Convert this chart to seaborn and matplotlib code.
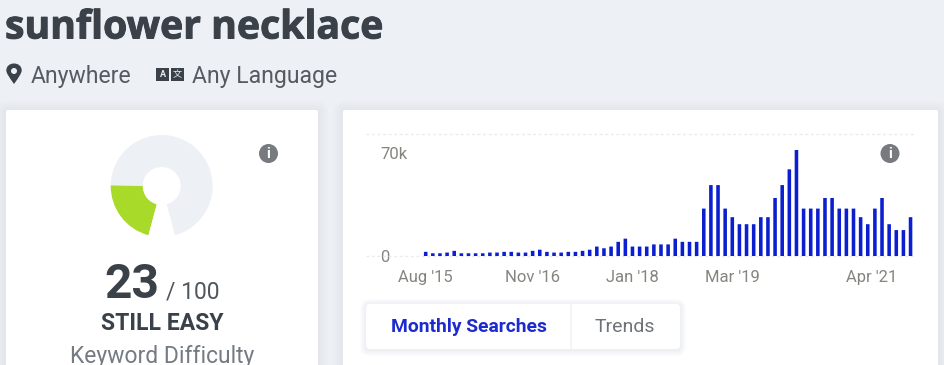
import matplotlib
matplotlib.use("Agg")
import matplotlib.pyplot as plt
import matplotlib.patheffects as pe
import seaborn as sns
import pandas as pd
from matplotlib.patches import FancyBboxPatch, Circle, Rectangle, PathPatch
from matplotlib.path import Path
from matplotlib.transforms import ScaledTranslation

# ---- data ----
title = "sunflower necklace"
searches = [2900, 1900, 1900, 2400, 3600, 1900, 1900, 1900, 1900, 2400,
            2400, 2900, 2900, 2400, 2400, 3600, 4400, 2900, 2400, 2400,
            2900, 2900, 3600, 4400, 6600, 5400, 6600, 9900, 12100, 6600,
            6600, 6600, 8100, 8100, 8100, 12100, 9900, 9900, 9900, 33100,
            49500, 49500, 33100, 27100, 22200, 22200, 22200, 27100, 27100,
            40500, 49500, 60500, 74000, 33100, 33100, 33100, 40500, 40500,
            33100, 33100, 33100, 27100, 22200, 33100, 40500, 22200, 18100,
            18100, 27100]
months = list(range(len(searches)))
tick_months = [0, 15, 29, 43, 62.5]
tick_labels = ["Aug '15", "Nov '16", "Jan '18", "Mar '19", "Apr '21"]
y_ticks = [0, 70000]
y_labels = ["0", "70k"]
score = 23
score_max = 100
gap_share = 9.09   # blank part of the gauge, in score units

W, H = 945, 365
BG = "#EDF1F5"
DARK = "#3A4149"
GRAY = "#757B82"
BLUE = "#0B1FD0"

sns.set_theme(style="white")
plt.rcParams["font.family"] = ["Roboto", "DejaVu Sans"]

fig = plt.figure(figsize=(W / 100, H / 100), dpi=100, facecolor=BG)


def px_axes(x0, y0, x1, y1, **kw):
    return fig.add_axes([x0 / W, 1 - y1 / H, (x1 - x0) / W, (y1 - y0) / H], **kw)


# page layer in pixel coordinates
page = px_axes(0, 0, W, H, zorder=0)
page.set_xlim(0, W)
page.set_ylim(H, 0)
page.axis("off")


def card(x0, y0, x1, y1, radius=2, shadow=10, shadow_col="#AEB6C0", a=0.03, step=2):
    for s in range(shadow, 0, -step):
        page.add_patch(FancyBboxPatch((x0 - s, y0 - s + 1), x1 - x0 + 2 * s, y1 - y0 + 2 * s,
                                      boxstyle=f"round,pad=0,rounding_size={radius + s}",
                                      fc=shadow_col, ec="none", alpha=a))
    page.add_patch(FancyBboxPatch((x0, y0), x1 - x0, y1 - y0,
                                  boxstyle=f"round,pad=0,rounding_size={radius}",
                                  fc="white", ec="none"))


def info(cx, cy, r=9.5):
    page.add_patch(Circle((cx, cy), r, fc="#777B80", ec="none"))
    page.text(cx, cy + 0.5, "i", color="white", fontsize=10.5, fontweight="bold",
              ha="center", va="center")


card(6, 110, 318, 400)
card(343, 110, 938, 400)

# header
page.text(5, 28, title, fontsize=28.2, fontweight="bold", family="Open Sans",
          color=DARK, ha="left", va="center",
          path_effects=[pe.withStroke(linewidth=0.7, foreground=DARK)])
page.add_patch(PathPatch(Path([(14, 84), (9, 77), (6.3, 73), (6.3, 70.5), (6.3, 66), (9.7, 63.5), (14, 63.5),
                               (18.3, 63.5), (21.7, 66), (21.7, 70.5), (21.7, 73), (19, 77), (14, 84)],
                              [Path.MOVETO, Path.CURVE4, Path.CURVE4, Path.CURVE4, Path.CURVE4, Path.CURVE4, Path.CURVE4,
                               Path.CURVE4, Path.CURVE4, Path.CURVE4, Path.CURVE4, Path.CURVE4, Path.CURVE4]),
                         fc=DARK, ec="none"))
page.add_patch(Circle((14, 71), 3, fc=BG, ec="none"))
page.text(31, 76, "Anywhere", fontsize=16.6, color="#555B62", ha="left", va="center")
page.add_patch(Rectangle((156, 68), 13, 13, fc=DARK, ec="none"))
page.add_patch(Rectangle((171, 68), 13, 13, fc=DARK, ec="none"))
page.text(162.5, 74.7, "A", fontsize=6.5, color=BG, fontweight="bold", ha="center", va="center")
page.text(177.5, 74.7, "文", fontsize=6.5, color=BG, ha="center", va="center",
          family=["Noto Sans CJK SC", "DejaVu Sans"])
page.text(192, 76, "Any Language", fontsize=16.6, color="#555B62", ha="left", va="center")

# score card
info(268.5, 153.5)
pie_ax = px_axes(161.7 - 55, 186 - 55, 161.7 + 55, 186 + 55, zorder=2)
pie_ax.pie([score, score_max - score, gap_share], colors=["#A8DA2A", "#EDF1F5", "white"],
           startangle=255, counterclock=False, radius=1,
           wedgeprops=dict(width=32 / 51, linewidth=0))
pie_ax.set_xlim(-55 / 51, 55 / 51)
pie_ax.set_ylim(-55 / 51, 55 / 51)
pie_ax.set_aspect("equal")

page.text(104, 285, str(score), fontsize=34.5, fontweight="bold", color=DARK, ha="left", va="center")
page.text(166, 292, f"/ {score_max}", fontsize=16.5, color="#50565D", ha="left", va="center")
page.text(162, 324, "STILL EASY", fontsize=16.6, fontweight="bold", color=DARK, ha="center", va="center")
page.text(162, 357, "Keyword Difficulty", fontsize=16.5, color=GRAY, ha="center", va="center")

# tabs
card(366, 304, 680, 349, radius=4, shadow=6, shadow_col="#9AA3C8", a=0.025, step=1)
page.plot([570.5, 570.5], [304, 349], color="#F0F2F5", lw=1.2)
page.text(468.5, 326.5, "Monthly Searches", fontsize=13.9, fontweight="bold", color="#1C2BD0",
          ha="center", va="center")
page.text(624.5, 326.5, "Trends", fontsize=14, color="#6E7379", ha="center", va="center")

# bar chart
PX_PER_MONTH = 7.13
FIRST_BAR = 425.7
AX_L, AX_R, AX_T, AX_B = 366, 915, 134, 256
ax = px_axes(AX_L, AX_T, AX_R, AX_B, zorder=1)
ax.patch.set_alpha(0)
df = pd.DataFrame({"month": months, "searches": searches})
sns.barplot(data=df, x="month", y="searches", color=BLUE, saturation=1, width=0.5,
            native_scale=True, linewidth=0, ax=ax, zorder=3)
for bar in ax.patches:
    bar.set_snap(False)
ax.set_xlim((AX_L - FIRST_BAR) / PX_PER_MONTH, (AX_R - FIRST_BAR) / PX_PER_MONTH)
ax.set_ylim(0, 74000 / 106 * (AX_B - AX_T))
ax.set_xlabel("")
ax.set_ylabel("")
sns.despine(ax=ax, left=True, bottom=True)
for yv in [0, ax.get_ylim()[1]]:
    ax.axhline(yv, color="#EBEBEB", lw=1, ls=(0, (2, 2)), zorder=1, clip_on=False)
ax.set_xticks(tick_months)
ax.set_xticklabels(tick_labels, fontsize=12, color="#85857F")
ax.set_yticks(y_ticks)
ax.set_yticklabels(y_labels, fontsize=12, color="#85857F", ha="left")
ax.tick_params(axis="x", length=0, pad=10)
ax.tick_params(axis="y", length=0, pad=-10)
labs = ax.get_yticklabels()
for lab in labs:
    lab.set_bbox(dict(fc="white", ec="none", pad=1.5))
    lab.set_zorder(5)
labs[1].set_transform(labs[1].get_transform() + ScaledTranslation(0, 3 / 100, fig.dpi_scale_trans))
info(890, 153.5)

fig.savefig("out.png", dpi=100, facecolor=BG)
